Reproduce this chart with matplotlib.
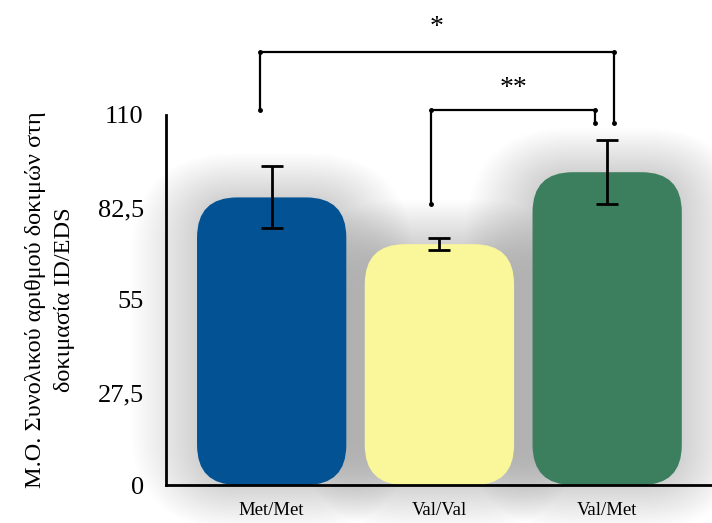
import matplotlib
matplotlib.use("Agg")
import matplotlib.pyplot as plt
import numpy as np
from matplotlib.patches import FancyBboxPatch

categories = ["Met/Met", "Val/Val", "Val/Met"]
means = [85.5, 71.6, 93.0]
errors = [9.2, 1.8, 9.5]
colors = ["#035294", "#F9F79A", "#3C7F5F"]
yticks = [0, 27.5, 55, 82.5, 110]
ytick_labels = ["0", "27,5", "55", "82,5", "110"]
ylabel = "Μ.Ο. Συνολικού αριθμού δοκιμών στη\nδοκιμασία ID/EDS"
sig_labels = ["*", "**"]

plt.rcParams['font.family'] = ['Liberation Serif', 'DejaVu Serif']

fig = plt.figure(figsize=(7.12, 5.23), dpi=100)
ax = fig.add_axes([166/712, 38/523, 546/712, 370/523])
ax.set_xlim(-0.63, 2.625)
ax.set_ylim(0, 110)
ax.patch.set_alpha(0)

x = np.arange(len(categories))
width = 0.89
rx = 0.24
aspect = 11.9 / 0.24

# soft shadow
for i, (m, c) in enumerate(zip(means, colors)):
    for k in range(22, 0, -1):
        grow = k * 0.03
        p = FancyBboxPatch((x[i] - width/2 - grow*0.6, -grow*20), width + grow*1.2, m + grow*40,
                           boxstyle=f"round,pad=0,rounding_size={rx+grow*0.6}",
                           mutation_aspect=aspect, facecolor="black", edgecolor="none",
                           alpha=0.006, zorder=1, clip_on=False)
        ax.add_patch(p)

for i, (m, c) in enumerate(zip(means, colors)):
    p = FancyBboxPatch((x[i] - width/2, 0), width, m,
                       boxstyle=f"round,pad=0,rounding_size={rx}",
                       mutation_aspect=aspect, facecolor=c, edgecolor="none", zorder=2)
    ax.add_patch(p)

ax.errorbar(x, means, yerr=errors, fmt="none", ecolor="black", elinewidth=2,
            capsize=8, capthick=2, zorder=4)

ax.set_yticks(yticks)
ax.set_yticklabels(ytick_labels, fontsize=19)
ax.set_xticks(x)
ax.set_xticklabels(categories, fontsize=13.5)
ax.tick_params(axis="y", length=0, pad=16)
ax.tick_params(axis="x", length=0, pad=12)
for s in ["top", "right"]:
    ax.spines[s].set_visible(False)
ax.spines["left"].set_linewidth(2)
ax.spines["bottom"].set_linewidth(2)
ax.set_ylabel(ylabel, fontsize=17.5, labelpad=16, linespacing=1.5)

# significance brackets
def bracket(x1, y1, x2, y2, ytop, label, ly):
    ax.plot([x1, x1, x2, x2], [y1, ytop, ytop, y2], color="black", lw=1.6,
            clip_on=False, zorder=5, marker="o", markersize=2.5)
    ax.text((x1 + x2) / 2, ly, label, ha="center", va="center", fontsize=20, clip_on=False)

bracket(-0.07, 111.5, 2.04, 107.6, 128.7, sig_labels[0], 136.0)
bracket(0.95, 83.5, 1.93, 107.6, 111.5, sig_labels[1], 117.8)

fig.savefig("out.png", dpi=100)
